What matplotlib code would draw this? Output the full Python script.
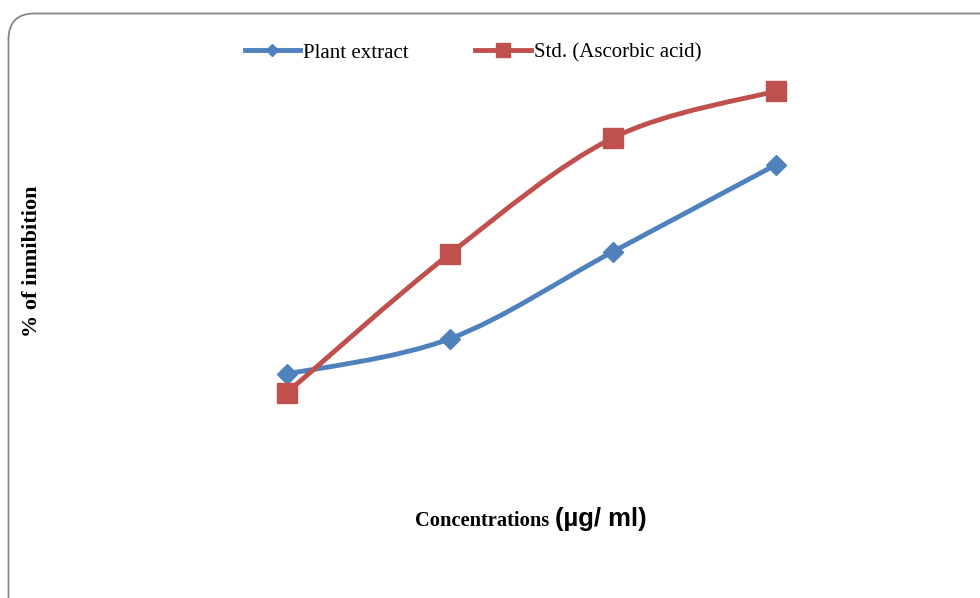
import numpy as np
import matplotlib
matplotlib.use('Agg')
import matplotlib.pyplot as plt
from matplotlib.path import Path
from matplotlib.patches import PathPatch, FancyBboxPatch
from matplotlib.lines import Line2D
from matplotlib.transforms import IdentityTransform

# Data (concentration steps, % inhibition)
steps = [1, 2, 3, 4]
plant_extract = [25.2, 33.6, 54.3, 75.0]
ascorbic_acid = [20.7, 53.8, 81.4, 92.6]

blue = '#4F81BD'
red = '#C0504D'


def smooth_path(xs, ys):
    # bezier path through the points (like Excel's smoothed line)
    p = np.column_stack([xs, ys]).astype(float)
    ext = np.vstack([p[0], p, p[-1]])
    verts = [p[0]]
    codes = [Path.MOVETO]
    for i in range(len(p) - 1):
        c1 = ext[i + 1] + (ext[i + 2] - ext[i]) / 6.0
        c2 = ext[i + 2] - (ext[i + 3] - ext[i + 1]) / 6.0
        verts += [c1, c2, ext[i + 2]]
        codes += [Path.CURVE4] * 3
    return Path(verts, codes)


fig = plt.figure(figsize=(9.8, 5.98), dpi=100)
ax = fig.add_axes([205 / 980, 118 / 598, 652 / 980, 420 / 598])
ax.set_xlim(0.5, 4.5)
ax.set_ylim(0, 100)
ax.axis('off')

ax.add_patch(PathPatch(smooth_path(steps, plant_extract), fill=False,
                       edgecolor=blue, lw=3.5, capstyle='round', zorder=2))
ax.add_patch(PathPatch(smooth_path(steps, ascorbic_acid), fill=False,
                       edgecolor=red, lw=3.5, capstyle='round', zorder=2))
ax.plot(steps, plant_extract, ls='none', marker='D', ms=10.5, color=blue, zorder=3)
ax.plot(steps, ascorbic_acid, ls='none', marker='s', ms=14.5, color=red, zorder=3)

# legend
handles = [Line2D([], [], color=blue, lw=3.5, marker='D', ms=6.5),
           Line2D([], [], color=red, lw=3.5, marker='s', ms=9.5)]
fig.legend(handles, ['Plant extract', 'Std. (Ascorbic acid)'], ncol=2,
           loc='center', bbox_to_anchor=(473 / 980, 1 - 53 / 598),
           frameon=False, handlelength=2.65, handletextpad=0.15,
           columnspacing=3.2,
           prop={'family': 'Liberation Serif', 'size': 15})

# axis titles
fig.text(32 / 980, 1 - 261 / 598, '% of inmibition', rotation=90,
         ha='center', va='center', family='Liberation Serif',
         weight='bold', size=16)
fig.text(415 / 980, 1 - 521 / 598, 'Concentrations', ha='left',
         va='center', family='Liberation Serif', weight='bold', size=14.8)
fig.text(555 / 980, 1 - 519 / 598, '(µg/ ml)', ha='left', va='center',
         family='Liberation Sans', weight='bold', size=18.5)

# rounded chart border
fig.add_artist(FancyBboxPatch((8.5, -40), 1040, 598 - 13.5 + 40,
                              boxstyle='round,pad=0,rounding_size=26',
                              transform=IdentityTransform(),
                              fill=False, edgecolor='#868686', lw=1.3))

fig.savefig('out.png', dpi=100)
